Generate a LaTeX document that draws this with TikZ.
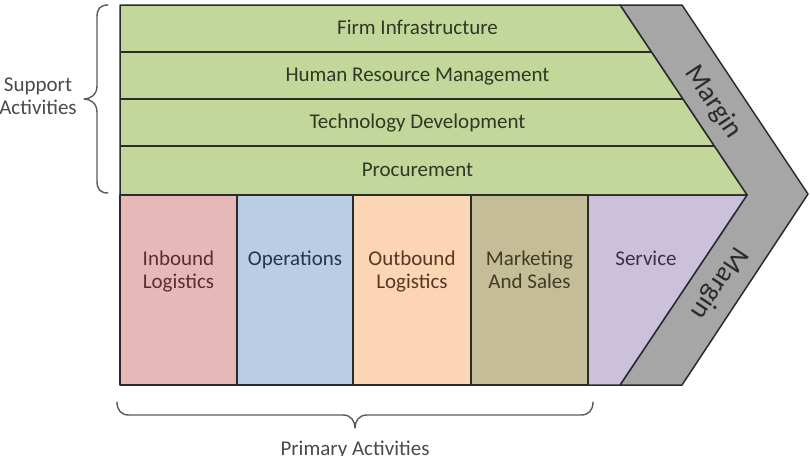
\documentclass[tikz,border=0pt]{standalone}
\usepackage{fontspec}
\setmainfont{Carlito}
\definecolor{grnF}{HTML}{C4D79B}
\definecolor{pinkF}{HTML}{E6B9B8}
\definecolor{blueF}{HTML}{B9CDE5}
\definecolor{peachF}{HTML}{FCD5B5}
\definecolor{oliveF}{HTML}{C4BD97}
\definecolor{lilacF}{HTML}{CCC1DA}
\definecolor{grayF}{HTML}{A6A6A6}
\definecolor{edgeC}{HTML}{2B2B2B}
\definecolor{grnT}{HTML}{2E3824}
\definecolor{pinkT}{HTML}{55302E}
\definecolor{blueT}{HTML}{24364E}
\definecolor{peachT}{HTML}{583620}
\definecolor{oliveT}{HTML}{403B26}
\definecolor{lilacT}{HTML}{3A2F4C}
\definecolor{labelT}{HTML}{4A4A4A}
\definecolor{braceC}{HTML}{5A5A5A}
\begin{document}
\begin{tikzpicture}[x=1pt,y=-1pt,
  bord/.style={draw=edgeC,line width=1.5pt,line join=round},
  lbl/.style={font=\fontsize{21}{23}\selectfont,align=center,inner sep=0pt,anchor=base},
  marg/.style={font=\fontsize{28}{30}\selectfont,text=edgeC,inner sep=0pt},
  bracepath/.style={draw=braceC,line width=1.4pt,line cap=round,line join=round}]
\useasboundingbox (0,0) rectangle (810,455);
\clip (0,0) rectangle (810,455);
% chevron corners
\coordinate (gTL) at (120,5);
\coordinate (gTR) at (620,5);
\coordinate (gIn) at (747,195);
\coordinate (gBL) at (120,195);
\coordinate (mOT) at (682,5);
\coordinate (mTip) at (808,194);
\coordinate (mOB) at (682,385);
\coordinate (mIB) at (620,385);
% margin band
\path[bord,fill=grayF] (gTR) -- (mOT) -- (mTip) -- (mOB) -- (mIB) -- (gIn) -- cycle;
% support area
\path[bord,fill=grnF] (gTL) -- (gTR) -- (gIn) -- (gBL) -- cycle;
\draw[bord] (120,52) -- (651.4,52);
\draw[bord] (120,99) -- (682.8,99);
\draw[bord] (120,146) -- (714.2,146);
% primary columns
\path[bord,fill=pinkF] (120,195) rectangle (237,385);
\path[bord,fill=blueF] (237,195) rectangle (353,385);
\path[bord,fill=peachF] (353,195) rectangle (471,385);
\path[bord,fill=oliveF] (471,195) rectangle (588,385);
\path[bord,fill=lilacF] (588,195) -- (gIn) -- (mIB) -- (588,385) -- cycle;
% support texts
\node[lbl,text=grnT] (fi) at (417.5,34.5) {Firm Infrastructure};
\node[lbl,text=grnT] (hrm) at (417.5,81.5) {Human Resource Management};
\node[lbl,text=grnT] (td) at (417.5,128.5) {Technology Development};
\node[lbl,text=grnT] (pr) at (417.5,176) {Procurement};
% primary texts
\node[lbl,text=pinkT,anchor=north] (ib) at (178.5,251) {Inbound\\Logistics};
\node[lbl,text=blueT,anchor=north] (op) at (295,251) {Operations};
\node[lbl,text=peachT,anchor=north] (ob) at (412,251) {Outbound\\Logistics};
\node[lbl,text=oliveT,anchor=north] (ms) at (529.5,251) {Marketing\\And Sales};
\node[lbl,text=lilacT,anchor=north] (sv) at (646,251) {Service};
% margin texts
\node[marg,rotate=-56.5] (m1) at (713,102) {Margin};
\node[marg,rotate=-123.5] (m2) at (719,283) {Margin};
% left brace
\coordinate (lbTop) at (108,5);
\coordinate (lbTip) at (84,99);
\coordinate (lbBot) at (108,193);
\draw[bracepath] (lbTop) .. controls (100,5) and (97,9) .. (97,17) -- (97,86)
  .. controls (97,95) and (90,99) .. (lbTip)
  .. controls (90,99) and (97,103) .. (97,112) -- (97,181)
  .. controls (97,189) and (100,193) .. (lbBot);
\node[lbl,text=labelT,anchor=north] (sa) at (38,78) {Support\\Activities};
% bottom brace
\coordinate (bbL) at (117,402);
\coordinate (bbTip) at (355,428);
\coordinate (bbR) at (593,402);
\draw[bracepath] (bbL) .. controls (117,410) and (121,415) .. (129,415) -- (343,415)
  .. controls (351,415) and (355,421) .. (bbTip)
  .. controls (355,421) and (359,415) .. (367,415) -- (581,415)
  .. controls (589,415) and (593,410) .. (bbR);
\node[lbl,text=labelT,anchor=north] (pa) at (355,441) {Primary Activities};
\end{tikzpicture}
\end{document}
